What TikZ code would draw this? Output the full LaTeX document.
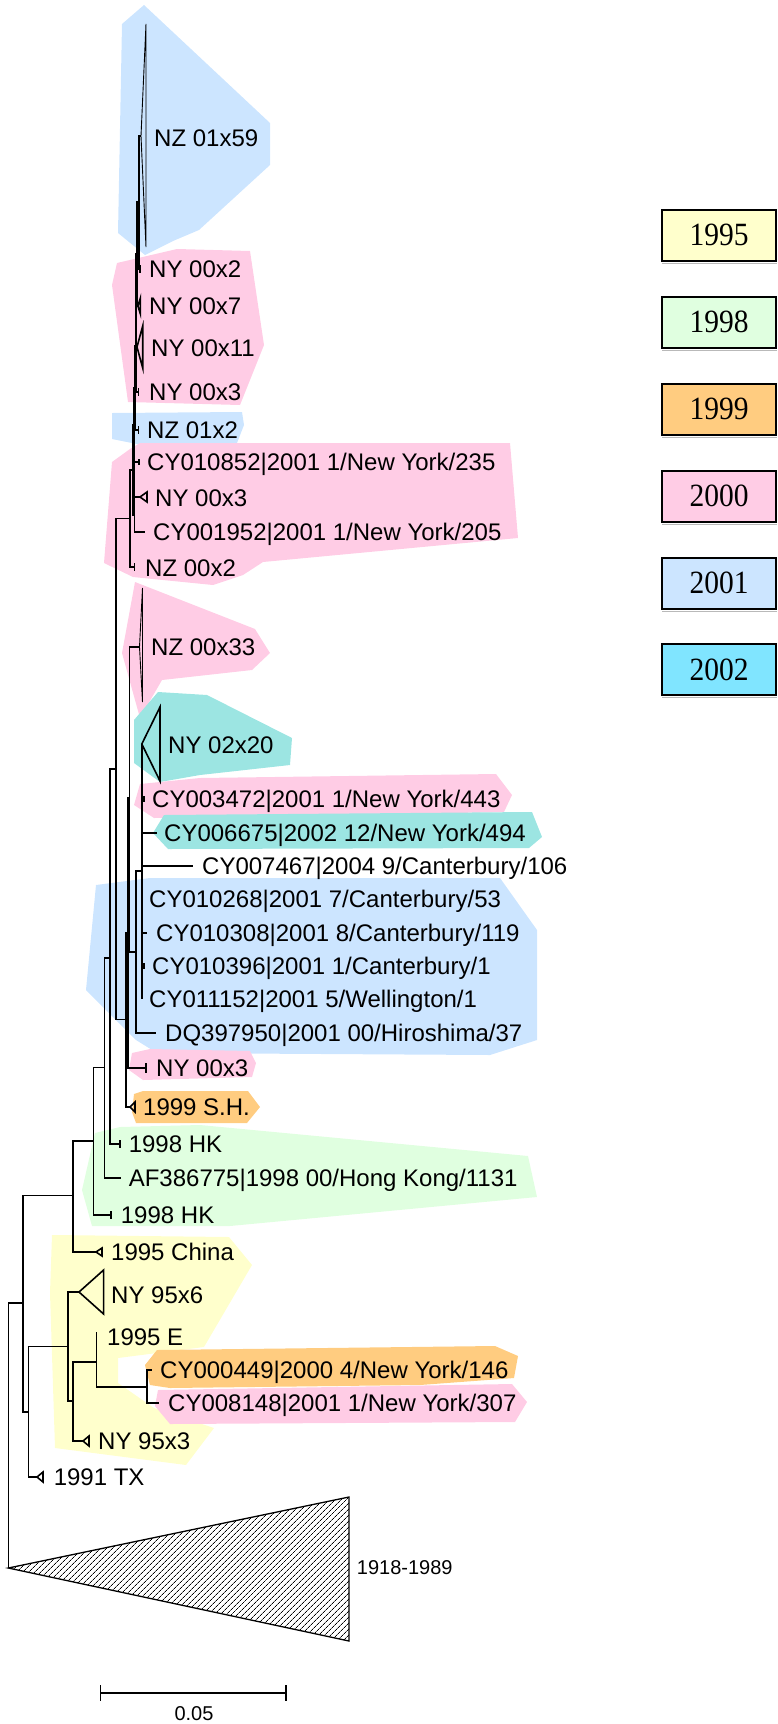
\documentclass[tikz,border=0pt]{standalone}
\usepackage{fontspec}
\newfontfamily\lsans{Liberation Sans}
\newfontfamily\lserif{Liberation Serif}
\usetikzlibrary{patterns.meta}
\definecolor{cNF}{HTML}{FFFFCC}
\definecolor{cNE}{HTML}{E0FFE0}
\definecolor{cNN}{HTML}{FFCC80}
\definecolor{cZZ}{HTML}{FFCCE5}
\definecolor{cZO}{HTML}{CCE5FF}
\definecolor{cZT}{HTML}{9CE5E2}
\definecolor{cZL}{HTML}{80E5FF}
\newcommand\ctri[3]{\draw[br] (#1) -- ++(#2,-#3) -- ++(0,{2*#3}) -- cycle;}
\newcommand\tick[2]{\draw[br] (#1) ++(0,-#2) -- ++(0,{2*#2});}
\begin{document}
\begin{tikzpicture}[x=1pt,y=-1pt,
  br/.style={line width=1.6pt},
  spine/.style={line width=2.1pt},
  lab/.style={anchor=base west, inner sep=0pt, font=\lsans\fontsize{24}{28}\selectfont},
  leg/.style={draw=black, line width=2pt, minimum width=114pt, minimum height=51pt, inner sep=0pt, font=\lserif\fontsize{29.5}{32}\selectfont}]
\useasboundingbox (0,0) rectangle (778,1724);

% ---------- coloured regions ----------
\fill[cZO] (122,24)--(144,5)--(270,123)--(270,165)--(199,230)--(173,241)--(145,255)--(118,233)--cycle;
\fill[cZZ] (117,263)--(177,249)--(250,251)--(264,345)--(240,405)--(128,402)--(112,285)--cycle;
\fill[cZO] (112,413)--(242,412)--(244,425)--(237,443)--(137,444)--(112,439)--cycle;
\fill[cZZ] (104,563)--(112,462)--(130,449)--(140,443)--(510,443)--(518,538)--(263,562)--(243,575)--(213,585)--(133,577)--cycle;
\fill[cZZ] (135,582)--(255,629)--(270,653)--(252,670)--(162,680)--(140,718)--(122,653)--cycle;
\fill[cZT] (134,720)--(158,692)--(207,695)--(292,738)--(290,765)--(200,775)--(160,782)--(134,763)--cycle;
\fill[cZZ] (134,805)--(140,784)--(200,778)--(496,774)--(512,795)--(504,812)--(357,815)--(154,818)--cycle;
\fill[cZT] (153,833)--(164,815)--(532,812)--(542,837)--(529,848)--(168,849)--cycle;
\fill[cZO] (96,885)--(150,878)--(500,878)--(537,930)--(537,1040)--(490,1055)--(157,1053)--(136,1040)--(86,990)--cycle;
\fill[cZZ] (132,1053)--(150,1049)--(250,1051)--(256,1063)--(252,1077)--(143,1080)--(129,1070)--cycle;
\fill[cNN] (134,1094)--(143,1091)--(248,1091)--(260,1107)--(247,1123)--(136,1123)--(132,1112)--cycle;
\fill[cNE] (82,1190)--(95,1133)--(120,1127)--(200,1125)--(528,1156)--(537,1197)--(230,1226)--(92,1226)--cycle;
\fill[cNF] (52,1235)--(229,1237)--(252,1265)--(204,1347)--(118,1358)--(118,1383)--(154,1408)--(214,1428)--(186,1465)--(55,1448)--(50,1293)--cycle;
\fill[cNN] (145,1365)--(157,1350)--(495,1346)--(518,1356)--(514,1378)--(420,1385)--(170,1388)--(150,1385)--cycle;
\fill[cZZ] (155,1406)--(158,1390)--(512,1384)--(527,1402)--(515,1422)--(170,1424)--cycle;

% ---------- internal nodes ----------
\coordinate (root) at (8.3,1435.5);
\coordinate (nY) at (23,1303);
\coordinate (nZ) at (28.6,1411.7);
\coordinate (nG2) at (68,1346.5);
\coordinate (nG3) at (73,1401);
\coordinate (nG4) at (96.4,1361.7);
\coordinate (nG5) at (147,1386.7);
\coordinate (nX) at (73,1195.5);
\coordinate (nW) at (93.6,1141);
\coordinate (nV) at (104.3,1067.5);
\coordinate (nU) at (110,957.8);
\coordinate (nQ) at (116,769);
\coordinate (nS) at (125.7,1019.5);
\coordinate (nT) at (127.7,933);
\coordinate (nR) at (129.3,798);
\coordinate (nB) at (135.7,952);
\coordinate (nA) at (141.8,871);
\coordinate (nP) at (130,518.5);
\coordinate (nC7) at (133.5,470);
\coordinate (nD) at (134.5,514.5);
\coordinate (nC6) at (134.3,425);
\coordinate (nC5) at (135,388);
\coordinate (nC4) at (135.8,346);
\coordinate (nC3) at (136.5,300);
\coordinate (nC2) at (137.5,254);
\coordinate (nC1) at (139,202);

% ---------- leaf tips ----------
\coordinate (tNZ59) at (141,136);
\coordinate (tNY2) at (139.8,269);
\coordinate (tNY7) at (137.9,306);
\coordinate (tNY11) at (137,347);
\coordinate (tNY3a) at (138.5,392);
\coordinate (tNZ2) at (138.5,430);
\coordinate (tCY852) at (139,462);
\coordinate (tNY3b) at (140,497);
\coordinate (tCY952) at (145,532);
\coordinate (tNZ00) at (134.5,567);
\coordinate (tNZ33) at (139.5,647);
\coordinate (tNY02) at (141.8,744);
\coordinate (tCY3472) at (144,799);
\coordinate (tCY6675) at (157,833);
\coordinate (tCY7467) at (193,866);
\coordinate (tCY0268) at (143,899);
\coordinate (tCY0308) at (147,933);
\coordinate (tCY0396) at (144,966);
\coordinate (tCY1152) at (141.8,999);
\coordinate (tDQ) at (156,1033);
\coordinate (tNY3c) at (146,1068);
\coordinate (tSH) at (130,1107);
\coordinate (tHK1) at (120,1144);
\coordinate (tAF) at (121,1178);
\coordinate (tHK2) at (111,1215);
\coordinate (tChina) at (96,1252);
\coordinate (tNY956) at (79,1292);
\coordinate (tE) at (96.4,1336);
\coordinate (tCY0449) at (152,1370);
\coordinate (tCY8148) at (159,1403);
\coordinate (tNY953) at (83,1441);
\coordinate (tTX) at (37,1477);
\coordinate (tOG) at (8.3,1568);

% ---------- branches ----------
\draw[br] (root) |- (nY);  \draw[br] (root) |- (tOG);
\draw[br] (nY) |- (nX);    \draw[br] (nY) |- (nZ);
\draw[br] (nZ) |- (nG2);   \draw[br] (nZ) |- (tTX);
\draw[br] (nG2) |- (tNY956); \draw[br] (nG2) |- (nG3);
\draw[br] (nG3) |- (nG4);  \draw[br] (nG3) |- (tNY953);
\draw[br] (nG4) |- (tE);   \draw[br] (nG4) |- (nG5);
\draw[br] (nG5) |- (tCY0449); \draw[br] (nG5) |- (tCY8148);
\draw[br] (nX) |- (nW);    \draw[br] (nX) |- (tChina);
\draw[br] (nW) |- (nV);    \draw[br] (nW) |- (tHK2);
\draw[br] (nV) |- (nU);    \draw[br] (nV) |- (tAF);
\draw[br] (nU) |- (nQ);    \draw[br] (nU) |- (tHK1);
\draw[br] (nQ) |- (nP);    \draw[br] (nQ) |- (nS);
\draw[br] (nS) |- (nT);    \draw[br] (nS) |- (tSH);
\draw[br] (nT) |- (nR);    \draw[spine] (nT) |- (tNY3c);
\draw[br] (nR) |- (tNZ33); \draw[br] (nR) |- (nB);
\draw[br] (nB) |- (nA);    \draw[br] (nB) |- (tDQ);
\foreach \c in {tNY02,tCY3472,tCY6675,tCY7467,tCY0268,tCY0308,tCY0396,tCY1152}
  {\draw[br] (nA) |- (\c);}
\draw[br] (nP) |- (nC7);   \draw[br] (nP) |- (tNZ00);
\draw[spine] (nC7) |- (nC6);  \draw[spine] (nC7) |- (nD);
\draw[br] (nD) |- (tNY3b); \draw[br] (nD) |- (tCY952);
\draw[spine] (nC6) |- (nC5);  \draw[br] (nC6) |- (tCY852);
\draw[spine] (nC5) |- (nC4);  \draw[br] (nC5) |- (tNZ2);
\draw[spine] (nC4) |- (nC3);  \draw[br] (nC4) |- (tNY3a);
\draw[spine] (nC3) |- (nC2);  \draw[br] (nC3) |- (tNY11);
\draw[spine] (nC2) |- (nC1);  \draw[br] (nC2) |- (tNY7);
\draw[br] (nC1) |- (tNZ59); \draw[br] (nC1) |- (tNY2);

% ---------- collapsed clades and tip ticks ----------
\draw[line width=0.9pt] (tNZ59) -- ++(5,-112) -- ++(0,223) -- cycle;
\draw[line width=0.9pt] (tNZ33) -- ++(3,-59) -- ++(0,114) -- cycle;
\ctri{tNY7}{2.5}{8}
\ctri{tNY11}{5.7}{21}
\ctri{tNY3b}{7}{5}
\ctri{tNY02}{18.2}{37}
\ctri{tSH}{5}{5}
\ctri{tChina}{6}{4}
\ctri{tNY956}{24.6}{22}
\ctri{tNY953}{6}{5}
\ctri{tTX}{6}{5}
\tick{tNY2}{4}
\tick{tNY3a}{4}
\tick{tNZ2}{4}
\tick{tCY852}{3}
\tick{tNZ00}{4}
\tick{tCY3472}{3}
\tick{tCY0396}{3}
\tick{tNY3c}{5}
\tick{tHK1}{4}
\tick{tHK2}{4}
\tick{tE}{4}
\draw[line width=1.3pt, pattern={Lines[angle=45,distance=4pt,line width=0.8pt]}]
  (tOG) -- (349,1497) -- (349,1641) -- cycle;

% ---------- labels ----------
\node[lab] (lNZ59) at (154,146.6) {NZ 01x59};
\node[lab] (lNY2) at (149,277.6) {NY 00x2};
\node[lab] (lNY7) at (149,314.6) {NY 00x7};
\node[lab] (lNY11) at (151,356.6) {NY 00x11};
\node[lab] (lNY3a) at (149,400.6) {NY 00x3};
\node[lab] (lNZ2) at (147,438.6) {NZ 01x2};
\node[lab] (lCY852) at (147,470.6) {CY010852|2001 1/New York/235};
\node[lab] (lNY3b) at (155,506.6) {NY 00x3};
\node[lab] (lCY952) at (153,540.6) {CY001952|2001 1/New York/205};
\node[lab] (lNZ00) at (145,576.6) {NZ 00x2};
\node[lab] (lNZ33) at (151,655.6) {NZ 00x33};
\node[lab] (lNY02) at (168,753.6) {NY 02x20};
\node[lab] (lCY3472) at (152,807.6) {CY003472|2001 1/New York/443};
\node[lab] (lCY6675) at (164,841.6) {CY006675|2002 12/New York/494};
\node[lab] (lCY7467) at (202,874.6) {CY007467|2004 9/Canterbury/106};
\node[lab] (lCY0268) at (149,907.6) {CY010268|2001 7/Canterbury/53};
\node[lab] (lCY0308) at (156,941.6) {CY010308|2001 8/Canterbury/119};
\node[lab] (lCY0396) at (152,974.6) {CY010396|2001 1/Canterbury/1};
\node[lab] (lCY1152) at (149,1007.6) {CY011152|2001 5/Wellington/1};
\node[lab] (lDQ) at (165,1041.6) {DQ397950|2001 00/Hiroshima/37};
\node[lab] (lNY3c) at (156,1076.6) {NY 00x3};
\node[lab] (lSH) at (143,1115.6) {1999 S.H.};
\node[lab] (lHK1) at (128.6,1152.6) {1998 HK};
\node[lab] (lAF) at (128.6,1186.6) {AF386775|1998 00/Hong Kong/1131};
\node[lab] (lHK2) at (120.7,1223.6) {1998 HK};
\node[lab] (lChina) at (111,1260.6) {1995 China};
\node[lab] (lNY956) at (111,1303.6) {NY 95x6};
\node[lab] (lE) at (107,1345.6) {1995 E};
\node[lab] (lCY0449) at (160,1378.6) {CY000449|2000 4/New York/146};
\node[lab] (lCY8148) at (168,1411.6) {CY008148|2001 1/New York/307};
\node[lab] (lNY953) at (98,1449.6) {NY 95x3};
\node[lab] (lTX) at (53.6,1485.6) {1991 TX};
\node[anchor=base west, inner sep=0pt, font=\lsans\fontsize{20}{24}\selectfont] (lOG) at (356.7,1574.2) {1918-1989};

% ---------- scale bar ----------
\coordinate (sbL) at (100.7,1693);
\coordinate (sbR) at (286,1693);
\draw[line width=1.5pt] (sbL) -- (sbR);
\draw[line width=1.5pt] (sbL) ++(0,-8) -- ++(0,16);
\draw[line width=1.5pt] (sbR) ++(0,-8) -- ++(0,16);
\node[anchor=base, inner sep=0pt, font=\lsans\fontsize{20}{24}\selectfont] (sbT) at (194,1720.2) {0.05};

% ---------- legend ----------
\foreach \yy/\cc/\tt in {235/cNF/1995, 322/cNE/1998, 409/cNN/1999, 496/cZZ/2000, 583/cZO/2001, 669.5/cZL/2002}{
  \draw[gray!55, line width=1pt] (662,\yy+28) -- (777,\yy+28);
  \node[leg, fill=\cc] (leg\tt) at (719,\yy) {\scalebox{1}[1.1]{\tt}};
}
\end{tikzpicture}
\end{document}
